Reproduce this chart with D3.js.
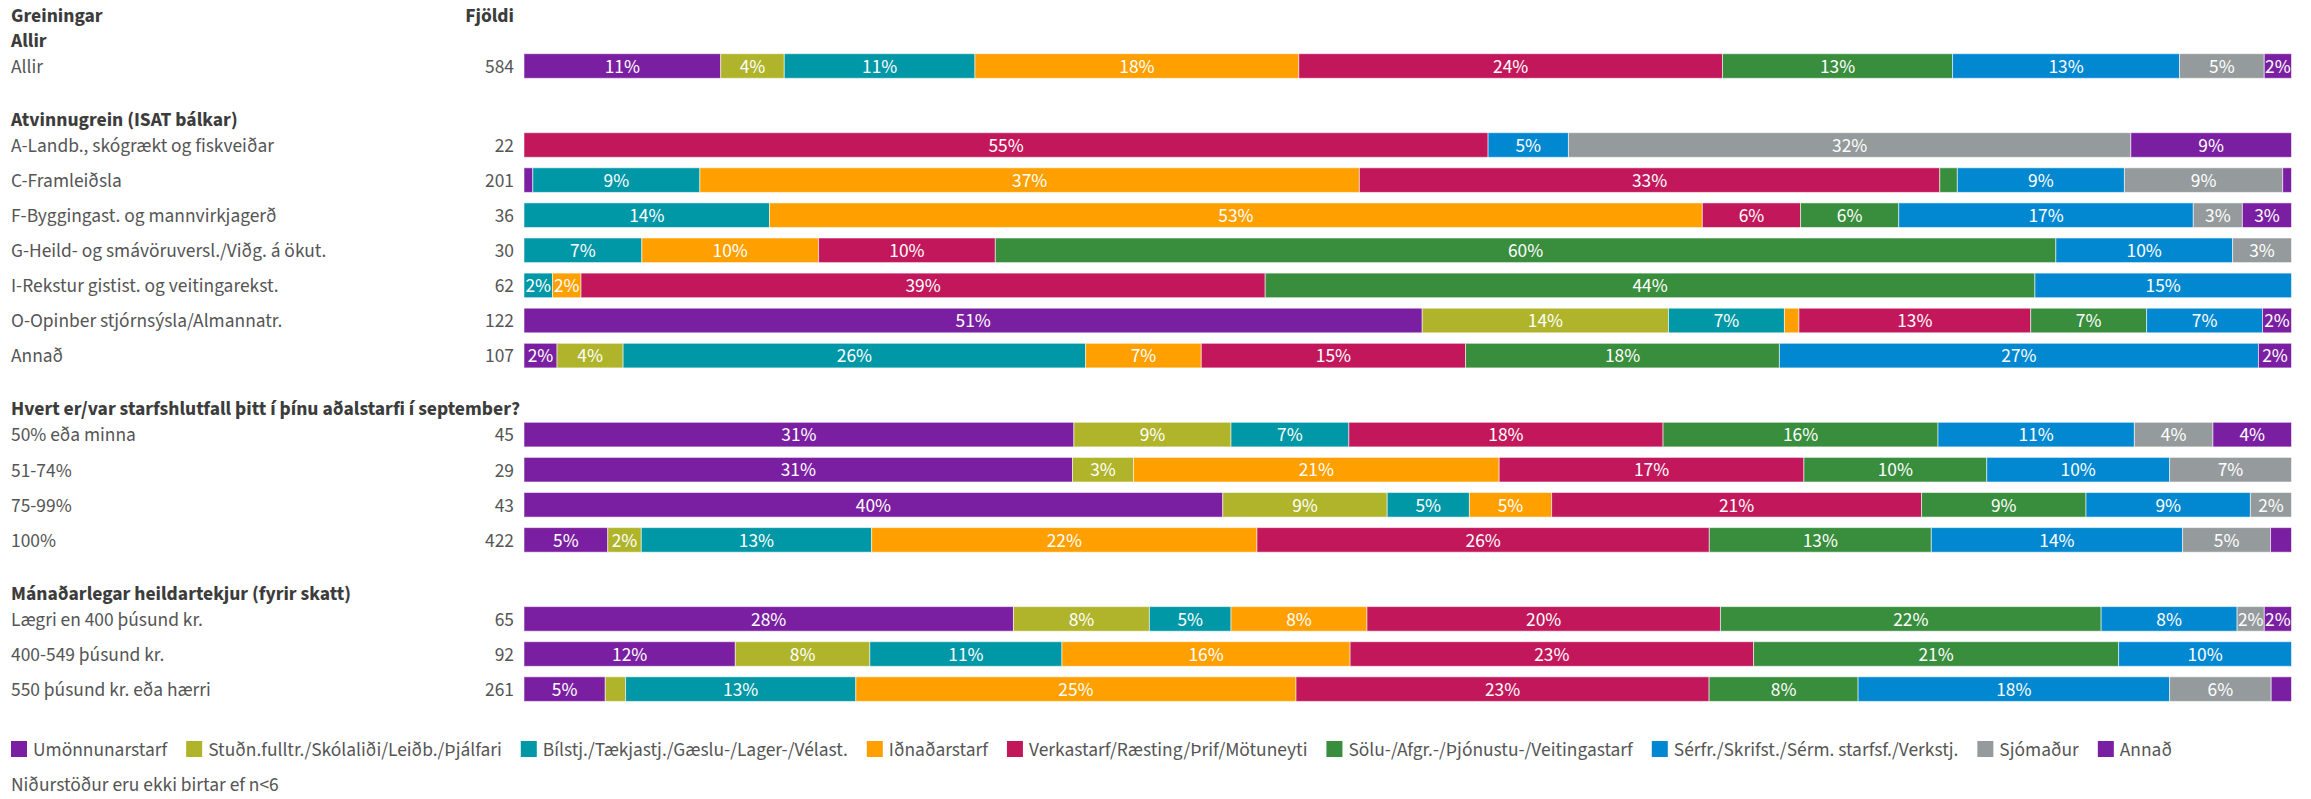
<!DOCTYPE html>
<html>
<head>
<meta charset="utf-8">
<script src="https://cdn.jsdelivr.net/npm/d3@7"></script>
<style>
  body { margin: 0; background: #fff; }
  text { font-family: "Source Sans Pro", "Source Sans 3", Lato, sans-serif; }
</style>
</head>
<body>
<div id="chart"></div>
<script>
// Flokkar starfa (röð í súlum og í skýringu)
var categories = [
  "Umönnunarstarf",
  "Stuðn.fulltr./Skólaliði/Leiðb./Þjálfari",
  "Bílstj./Tækjastj./Gæslu-/Lager-/Vélast.",
  "Iðnaðarstarf",
  "Verkastarf/Ræsting/Þrif/Mötuneyti",
  "Sölu-/Afgr.-/Þjónustu-/Veitingastarf",
  "Sérfr./Skrifst./Sérm. starfsf./Verkstj.",
  "Sjómaður",
  "Annað"
];
var colors = ["#7b1fa2", "#afb42b", "#0097a7", "#ffa000", "#c2185b", "#388e3c", "#0288d1", "#959b9c", "#7b1fa2"];

// Greiningar
var groups = [
  "Allir",
  "Atvinnugrein (ISAT bálkar)",
  "Hvert er/var starfshlutfall þitt í þínu aðalstarfi í september?",
  "Mánaðarlegar heildartekjur (fyrir skatt)"
];

// Raðir
var rowLabels = [
  "Allir",
  "A-Landb., skógrækt og fiskveiðar", "C-Framleiðsla", "F-Byggingast. og mannvirkjagerð",
  "G-Heild- og smávöruversl./Viðg. á ökut.", "I-Rekstur gistist. og veitingarekst.",
  "O-Opinber stjórnsýsla/Almannatr.", "Annað",
  "50% eða minna", "51-74%", "75-99%", "100%",
  "Lægri en 400 þúsund kr.", "400-549 þúsund kr.", "550 þúsund kr. eða hærri"
];
var rowGroup = [0, 1, 1, 1, 1, 1, 1, 1, 2, 2, 2, 2, 3, 3, 3];
var rowN = [584, 22, 201, 36, 30, 62, 122, 107, 45, 29, 43, 422, 65, 92, 261];

// Fjöldi svara í hverjum flokki, ein tala fyrir hverja röð
var umonnun   = [65, 0, 1, 0, 0, 0, 62, 2, 14, 9, 17, 20, 18, 11, 12];
var studn     = [21, 0, 0, 0, 0, 0, 17, 4, 4, 1, 4, 8, 5, 7, 3];
var bilstj    = [63, 0, 19, 5, 2, 1, 8, 28, 3, 0, 2, 55, 3, 10, 34];
var idnadar   = [107, 0, 75, 19, 3, 1, 1, 7, 0, 6, 2, 92, 5, 15, 65];
var verka     = [140, 12, 66, 2, 3, 24, 16, 16, 8, 5, 9, 108, 13, 21, 61];
var solu      = [76, 0, 2, 2, 18, 27, 8, 19, 7, 3, 4, 53, 14, 19, 22];
var serfr     = [75, 1, 19, 6, 3, 9, 8, 29, 5, 3, 4, 60, 5, 9, 46];
var sjomadur  = [28, 7, 18, 1, 1, 0, 0, 0, 2, 2, 1, 21, 1, 0, 15];
var annad     = [9, 2, 1, 1, 0, 0, 2, 2, 2, 0, 0, 5, 1, 0, 3];
var series = [umonnun, studn, bilstj, idnadar, verka, solu, serfr, sjomadur, annad];

var width = 2311, height = 799;
var labelX = 11, countX = 514;
var barLeft = 524, barRight = 2291.5, barH = 24.6;
var rowStep = 35.1, headToRow = 26, sectionGap = 53;

var svg = d3.select("#chart").append("svg")
  .attr("width", width)
  .attr("height", height);

// Leturstærð stillt svo breidd texta passi við upprunalegu myndina
// (upprunalega letrið er mjórra en þau sem eru til staðar)
function fitSize(samples, weight) {
  var measured = 0, target = 0;
  samples.forEach(function(s) {
    var t = svg.append("text").attr("font-size", 18).attr("font-weight", weight).text(s[0]);
    measured += t.node().getComputedTextLength();
    target += s[1];
    t.remove();
  });
  return 18 * target / measured;
}
var fsRegular = fitSize([
  ["G-Heild- og smávöruversl./Viðg. á ökut.", 318],
  ["I-Rekstur gistist. og veitingarekst.", 269],
  ["A-Landb., skógrækt og fiskveiðar", 265],
  ["C-Framleiðsla", 110],
  ["Umönnunarstarf", 135],
  ["Stuðn.fulltr./Skólaliði/Leiðb./Þjálfari", 286],
  ["Niðurstöður eru ekki birtar ef n<6", 270]
], 400);
var fsBold = fitSize([
  ["Atvinnugrein (ISAT bálkar)", 227],
  ["Hvert er/var starfshlutfall þitt í þínu aðalstarfi í september?", 509],
  ["Mánaðarlegar heildartekjur (fyrir skatt)", 340]
], 700);
var fsPct = fitSize([["11%", 35], ["55%", 35.5]], 400);

// Tafla fyrir d3.stack
var table = rowLabels.map(function(label, i) {
  var o = { id: i, label: label };
  series.forEach(function(s, k) { o["c" + k] = s[i]; });
  return o;
});
var keys = categories.map(function(c, k) { return "c" + k; });
var stacked = d3.stack().keys(keys).offset(d3.stackOffsetExpand)(table);

// Lóðrétt staðsetning raða og fyrirsagna
var rowY = [], headY = [];
var y = 40;
groups.forEach(function(g, gi) {
  headY.push(y);
  var first = true;
  rowGroup.forEach(function(rg, i) {
    if (rg !== gi) return;
    y += first ? headToRow : rowStep;
    first = false;
    rowY.push(y);
  });
  y += sectionGap;
});

var x = d3.scaleLinear().domain([0, 1]).range([barLeft, barRight]);
var yRow = d3.scaleOrdinal().domain(d3.range(rowLabels.length)).range(rowY);
var color = d3.scaleOrdinal().domain(keys).range(colors);

// Dálkafyrirsagnir
svg.append("text").attr("x", labelX).attr("y", 15).attr("dy", "0.35em")
  .attr("font-size", fsBold).attr("font-weight", 700).attr("fill", "#3c3c3c").text("Greiningar");
svg.append("text").attr("x", countX).attr("y", 15).attr("dy", "0.35em")
  .attr("text-anchor", "end").attr("font-size", fsBold).attr("font-weight", 700).attr("fill", "#3c3c3c").text("Fjöldi");

// Fyrirsagnir greininga
svg.selectAll(".group-head")
  .data(groups)
  .enter()
  .append("text")
  .attr("class", "group-head")
  .attr("x", labelX)
  .attr("y", function(d, i) { return headY[i]; })
  .attr("dy", "0.35em")
  .attr("font-size", fsBold)
  .attr("font-weight", 700)
  .attr("fill", "#3c3c3c")
  .text(function(d) { return d; });

// Heiti raða og fjöldi
svg.selectAll(".row-label")
  .data(table)
  .enter()
  .append("text")
  .attr("class", "row-label")
  .attr("x", labelX)
  .attr("y", function(d) { return yRow(d.id); })
  .attr("dy", "0.35em")
  .attr("font-size", fsRegular)
  .attr("fill", "#555")
  .text(function(d) { return d.label; });

svg.selectAll(".row-n")
  .data(table)
  .enter()
  .append("text")
  .attr("class", "row-n")
  .attr("x", countX)
  .attr("y", function(d) { return yRow(d.id); })
  .attr("dy", "0.35em")
  .attr("text-anchor", "end")
  .attr("font-size", fsRegular)
  .attr("fill", "#555")
  .text(function(d, i) { return rowN[i]; });

// Súlur
var layer = svg.selectAll(".layer")
  .data(stacked)
  .enter()
  .append("g")
  .attr("class", "layer")
  .attr("fill", function(d) { return color(d.key); });

layer.selectAll("rect")
  .data(function(d) { return d; })
  .enter()
  .append("rect")
  .attr("x", function(d) { return x(d[0]); })
  .attr("y", function(d) { return yRow(d.data.id) - barH / 2; })
  .attr("width", function(d) { return x(d[1]) - x(d[0]); })
  .attr("height", barH)
  .attr("stroke", "#fff")
  .attr("stroke-opacity", 0.55)
  .attr("stroke-width", 1);

layer.selectAll("text")
  .data(function(d) { return d.filter(function(s) { return x(s[1]) - x(s[0]) >= 25; }); })
  .enter()
  .append("text")
  .attr("x", function(d) { return (x(d[0]) + x(d[1])) / 2; })
  .attr("y", function(d) { return yRow(d.data.id); })
  .attr("dy", "0.35em")
  .attr("text-anchor", "middle")
  .attr("font-size", fsPct)
  .attr("fill", "#fff")
  .text(function(d) { return Math.round((d[1] - d[0]) * 100) + "%"; });

// Skýringar
var legend = svg.append("g").attr("transform", "translate(" + labelX + ",749)");
var lx = 0;
categories.forEach(function(c, k) {
  var item = legend.append("g").attr("transform", "translate(" + lx + ",0)");
  item.append("rect").attr("x", 0).attr("y", -8).attr("width", 16).attr("height", 16).attr("fill", colors[k]);
  var t = item.append("text").attr("x", 22).attr("y", 0).attr("dy", "0.35em")
    .attr("font-size", fsRegular).attr("fill", "#555").text(c);
  lx += 22 + t.node().getComputedTextLength() + 19;
});

svg.append("text").attr("x", labelX).attr("y", 784).attr("dy", "0.35em")
  .attr("font-size", fsRegular).attr("fill", "#555").text("Niðurstöður eru ekki birtar ef n<6");
</script>
</body>
</html>
